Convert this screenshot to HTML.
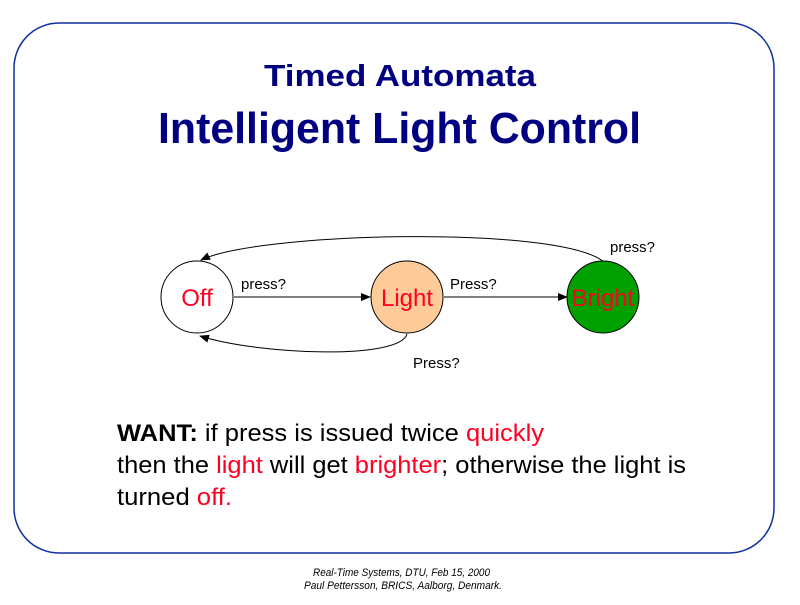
<!DOCTYPE html>
<html><head><style>body{margin:0;background:#fff}</style></head><body>
<svg width="800" height="600" xmlns="http://www.w3.org/2000/svg" font-family="Liberation Sans, sans-serif">
<defs><marker id="a" markerWidth="10" markerHeight="8" refX="9" refY="4" orient="auto" markerUnits="userSpaceOnUse"><path d="M0,0 L10,4 L0,8 z" fill="#000"/></marker></defs>
<rect x="14" y="23" width="760" height="530" rx="45" ry="45" fill="#fff" stroke="#1030a0" stroke-width="1.5"/>
<text x="264" y="86" textLength="272" lengthAdjust="spacingAndGlyphs" font-size="31" font-weight="bold" fill="#000080">Timed Automata</text>
<text x="158" y="143" textLength="483" lengthAdjust="spacingAndGlyphs" font-size="44" font-weight="bold" fill="#000080">Intelligent Light Control</text>
<path d="M604,262 C560,225 260,232 201,260" fill="none" stroke="#000" stroke-width="1" marker-end="url(#a)"/>
<path d="M407,334 C400,360 260,355 200,336" fill="none" stroke="#000" stroke-width="1" marker-end="url(#a)"/>
<line x1="234" y1="297" x2="370" y2="297" stroke="#000" marker-end="url(#a)"/>
<line x1="444" y1="297" x2="567" y2="297" stroke="#000" marker-end="url(#a)"/>
<circle cx="197" cy="297" r="36" fill="#fff" stroke="#000"/>
<circle cx="407" cy="297" r="36" fill="#ffcc99" stroke="#000"/>
<circle cx="603" cy="297" r="36" fill="#00a000" stroke="#000"/>
<g fill="#ff0022" font-size="24" text-anchor="middle">
<text x="197" y="306">Off</text><text x="407" y="306">Light</text><text x="603" y="306">Bright</text></g>
<g font-size="15" fill="#000">
<text x="241" y="289">press?</text><text x="450" y="289">Press?</text>
<text x="610" y="252">press?</text><text x="413" y="368">Press?</text></g>
<g font-size="24" fill="#000">
<text x="117" y="441" textLength="427" lengthAdjust="spacingAndGlyphs"><tspan font-weight="bold">WANT:</tspan>  if press is issued twice <tspan fill="#ff0022">quickly</tspan></text>
<text x="117" y="473" textLength="569" lengthAdjust="spacingAndGlyphs">then the <tspan fill="#ff0022">light</tspan> will get <tspan fill="#ff0022">brighter</tspan>; otherwise the light is</text>
<text x="117" y="505" textLength="115" lengthAdjust="spacingAndGlyphs">turned <tspan fill="#ff0022">off.</tspan></text></g>
<g font-size="11" font-style="italic" fill="#000">
<text x="313" y="576" textLength="177" lengthAdjust="spacingAndGlyphs">Real-Time Systems, DTU, Feb 15, 2000</text>
<text x="304" y="589" textLength="198" lengthAdjust="spacingAndGlyphs">Paul Pettersson, BRICS, Aalborg, Denmark.</text></g>
</svg>
</body></html>
